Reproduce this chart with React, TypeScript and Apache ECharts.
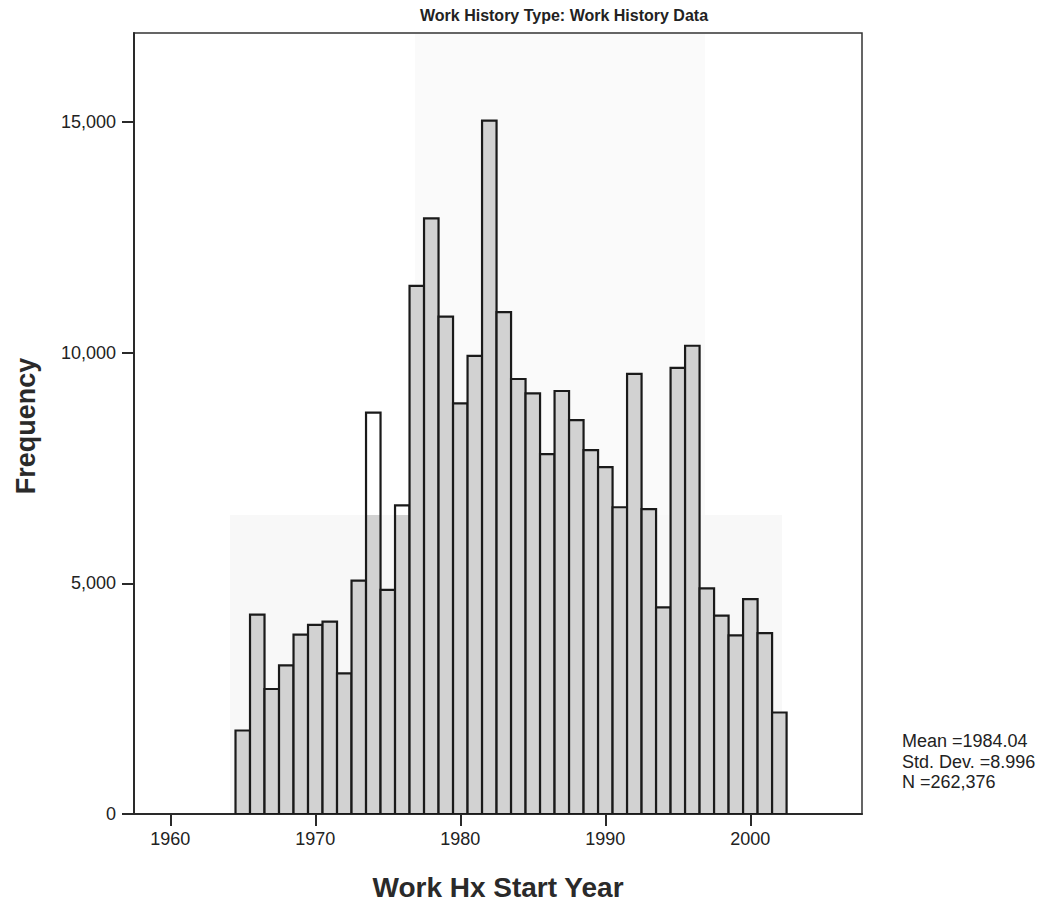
import React, { useEffect, useRef } from "react";
import * as echarts from "echarts";

const years: number[] = [
  1965, 1966, 1967, 1968, 1969, 1970, 1971, 1972, 1973, 1974, 1975, 1976, 1977,
  1978, 1979, 1980, 1981, 1982, 1983, 1984, 1985, 1986, 1987, 1988, 1989, 1990,
  1991, 1992, 1993, 1994, 1995, 1996, 1997, 1998, 1999, 2000, 2001, 2002,
];
const frequencies: number[] = [
  1810, 4320, 2710, 3220, 3890, 4100, 4170, 3050, 5060, 8700, 4860, 6690, 11450,
  12910, 10780, 8900, 9930, 15030, 10880, 9430, 9120, 7800, 9170, 8540, 7890, 7520,
  6650, 9540, 6610, 4480, 9670, 10150, 4890, 4300, 3870, 4660, 3920, 2200,
];
const xTicks: number[] = [1960, 1970, 1980, 1990, 2000];
const yTicks: number[] = [0, 5000, 10000, 15000];
const statsLines: string[] = ["Mean =1984.04", "Std. Dev. =8.996", "N =262,376"];
const chartTitle = "Work History Type: Work History Data";
const xTitle = "Work Hx Start Year";
const yTitle = "Frequency";

// scan shading: bars appear light above this level in a couple of columns
const whiteTopYears: number[] = [1974, 1976];
const shadeLevel = 6480;

const FONT = "'Liberation Sans', Arial, Helvetica, sans-serif";
const BAR_GRAY = "#d2d2d2";

export default function App() {
  const ref = useRef<HTMLDivElement>(null);
  useEffect(() => {
    if (!ref.current) return;
    const chart = echarts.init(ref.current, null, { renderer: "svg" });
    const data = years.map((y, i) => [y, frequencies[i]]);
    chart.setOption({
      animation: false,
      backgroundColor: "#ffffff",
      textStyle: { fontFamily: FONT },
      grid: {
        left: 134,
        top: 33,
        width: 728,
        height: 781,
        show: true,
        borderColor: "#333",
        borderWidth: 1.5,
        backgroundColor: "transparent",
      },
      xAxis: {
        type: "value",
        min: 1957.5,
        max: 2007.7,
        axisLine: { show: true, onZero: false, lineStyle: { color: "#2a2a2a", width: 2 } },
        axisTick: { show: true, customValues: xTicks, length: 12, lineStyle: { color: "#2a2a2a", width: 2 } },
        axisLabel: {
          customValues: xTicks,
          fontSize: 18,
          color: "#222",
          margin: 16,
          fontFamily: FONT,
          formatter: (v: number) => String(v),
        },
        splitLine: { show: false },
      },
      yAxis: {
        type: "value",
        min: 0,
        max: 16930,
        axisLine: { show: true, lineStyle: { color: "#2a2a2a", width: 2 } },
        axisTick: { show: true, customValues: yTicks, length: 12, lineStyle: { color: "#2a2a2a", width: 2 } },
        axisLabel: {
          customValues: yTicks,
          fontSize: 18,
          color: "#222",
          margin: 18,
          fontFamily: FONT,
          formatter: (v: number) => v.toLocaleString("en-US"),
        },
        splitLine: { show: false },
      },
      graphic: [
        { type: "rect", z: -10, shape: { x: 415, y: 34, width: 290, height: 481 }, style: { fill: "#fafafa" } },
        { type: "rect", z: -10, shape: { x: 230, y: 515, width: 552, height: 299 }, style: { fill: "#f8f8f8" } },
        {
          type: "text",
          x: 564,
          y: 15,
          style: {
            text: chartTitle,
            fontSize: 16,
            fontWeight: "bold",
            fontFamily: FONT,
            fill: "#222",
            textAlign: "center",
            textVerticalAlign: "middle",
          },
        },
        {
          type: "text",
          x: 498,
          y: 887,
          style: {
            text: xTitle,
            fontSize: 28,
            fontWeight: "bold",
            fontFamily: FONT,
            fill: "#2a2a2a",
            textAlign: "center",
            textVerticalAlign: "middle",
          },
        },
        {
          type: "text",
          x: 26,
          y: 426,
          rotation: Math.PI / 2,
          style: {
            text: yTitle,
            fontSize: 27,
            fontWeight: "bold",
            fontFamily: FONT,
            fill: "#2a2a2a",
            textAlign: "center",
            textVerticalAlign: "middle",
          },
        },
        ...statsLines.map((t, i) => ({
          type: "text",
          x: 902,
          y: 741 + i * 20.5,
          style: {
            text: t,
            fontSize: 18,
            fontFamily: FONT,
            fill: "#222",
            textAlign: "left",
            textVerticalAlign: "middle",
          },
        })),
      ],
      series: [
        {
          type: "custom",
          data,
          encode: { x: 0, y: 1 },
          clip: true,
          renderItem: (params: any, api: any) => {
            const x = api.value(0);
            const v = api.value(1);
            const p0 = api.coord([x - 0.5, v]);
            const p1 = api.coord([x + 0.5, 0]);
            let fill: any = BAR_GRAY;
            if (whiteTopYears.indexOf(x) >= 0 && v > shadeLevel) {
              const f = (v - shadeLevel) / v;
              fill = new echarts.graphic.LinearGradient(0, 0, 0, 1, [
                { offset: 0, color: "#ffffff" },
                { offset: f, color: "#ffffff" },
                { offset: f, color: BAR_GRAY },
                { offset: 1, color: BAR_GRAY },
              ]);
            }
            return {
              type: "rect",
              shape: { x: p0[0], y: p0[1], width: p1[0] - p0[0], height: p1[1] - p0[1] },
              style: { fill, stroke: "#1a1a1a", lineWidth: 2.2 },
            };
          },
        },
      ],
    });
    return () => chart.dispose();
  }, []);
  return (
    <div
      ref={ref}
      style={{ position: "fixed", left: 0, top: 0, width: 1058, height: 905, background: "#fff" }}
    />
  );
}
